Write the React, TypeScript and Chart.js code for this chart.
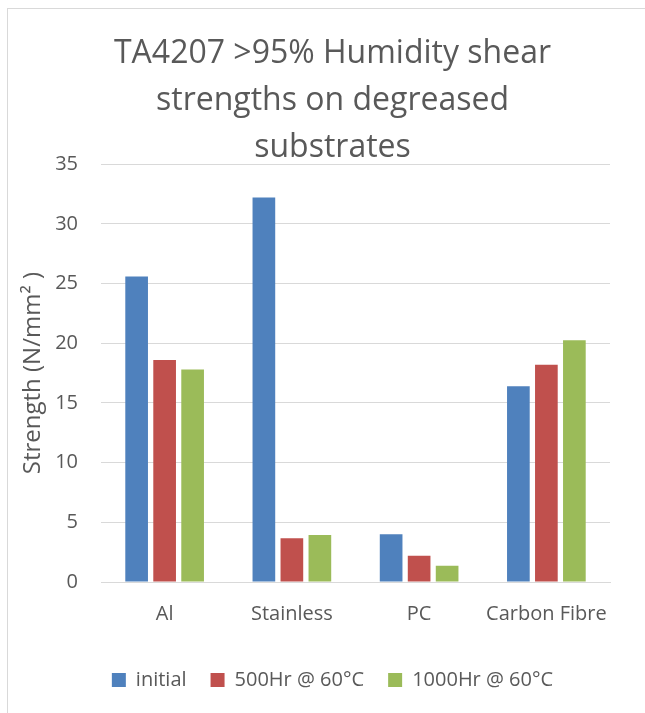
import React, { useEffect, useRef } from 'react';
import { Chart, registerables } from 'chart.js';

Chart.register(...registerables);

const categories = ['Al', 'Stainless', 'PC', 'Carbon Fibre'];
const seriesNames = ['initial', '500Hr @ 60°C', '1000Hr @ 60°C'];
const initialValues = [25.6, 32.2, 4.0, 16.4];
const hr500Values = [18.6, 3.66, 2.2, 18.2];
const hr1000Values = [17.8, 3.94, 1.37, 20.25];
const seriesColors = ['#4F81BD', '#C0504D', '#9BBB59'];
const yMin = 0;
const yMax = 35;
const yStep = 5;
const titleLines = ['TA4207 >95% Humidity shear', 'strengths on degreased', 'substrates'];
const yAxisTitle = 'Strength (N/mm\u00B2 )';

const TEXT = '#595959';
const GRID = '#d9d9d9';
const FONT = "'Open Sans', sans-serif";

export default function App() {
  const ref = useRef<HTMLCanvasElement | null>(null);

  useEffect(() => {
    if (!ref.current) return;
    const seriesValues = [initialValues, hr500Values, hr1000Values];
    const chart = new Chart(ref.current, {
      type: 'bar',
      data: {
        labels: categories,
        datasets: seriesNames.map((name, i) => ({
          label: name,
          data: seriesValues[i],
          backgroundColor: seriesColors[i],
          borderWidth: 0,
          categoryPercentage: 0.66,
          barPercentage: 0.81,
        })),
      },
      options: {
        responsive: false,
        animation: false,
        devicePixelRatio: 1,
        layout: { padding: { left: 15, right: 10, top: 0, bottom: 13 } },
        font: { family: FONT },
        plugins: {
          tooltip: { enabled: false },
          title: {
            display: true,
            text: titleLines,
            color: TEXT,
            font: { family: FONT, size: 32, weight: 'normal', lineHeight: 1.46 },
            padding: { top: 31, bottom: -7 },
          },
          legend: {
            position: 'bottom',
            align: 'center',
            labels: {
              color: TEXT,
              font: { family: FONT, size: 20 },
              boxWidth: 14,
              boxHeight: 14,
              padding: 24,
            },
          },
        },
        scales: {
          x: {
            grid: { display: false, drawTicks: false },
            border: { display: true, color: GRID, width: 1 },
            ticks: { color: TEXT, font: { family: FONT, size: 20 }, padding: 20, maxRotation: 0 },
            afterFit: (s: any) => { s.height = 64; },
          },
          y: {
            min: yMin,
            max: yMax,
            grid: { color: GRID, lineWidth: 1, drawTicks: false },
            border: { display: false },
            ticks: { stepSize: yStep, color: TEXT, font: { family: FONT, size: 20 }, padding: 23 },
            title: { display: true, text: yAxisTitle, color: TEXT, font: { family: FONT, size: 24 }, padding: { top: 4, bottom: 4 } },
            afterFit: (s: any) => { s.width = 86; },
          },
          y2: {
            position: 'right',
            display: true,
            grid: { display: false, drawTicks: false },
            border: { display: false },
            ticks: { display: false },
            afterFit: (s: any) => { s.width = 40; },
          },
        },
      },
    } as any);
    return () => chart.destroy();
  }, []);

  return (
    <div style={{ position: 'fixed', left: 0, top: 0, width: 645, height: 713, overflow: 'hidden', background: '#fff' }}>
      <div style={{ position: 'absolute', left: 7, top: 8, width: 700, height: 760, borderLeft: '1px solid #d9d9d9', borderTop: '1px solid #d9d9d9', boxSizing: 'border-box' }} />
      <canvas ref={ref} width={660} height={713} style={{ position: 'absolute', left: 0, top: 0, width: 660, height: 713 }} />
    </div>
  );
}
